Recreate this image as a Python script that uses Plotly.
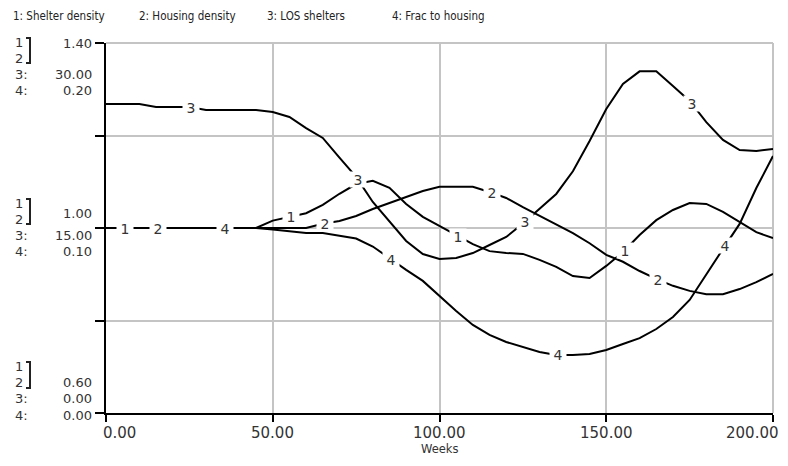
import numpy as np
import plotly.graph_objects as go

# ---- data (weekly simulation output, sampled every 5 weeks) ----
weeks = list(range(0, 201, 5))

shelter_density = [
    1.000, 1.000, 1.000, 1.000, 1.000, 1.000, 1.000, 1.000, 1.000, 1.000,
    1.016, 1.024, 1.032, 1.050, 1.074, 1.095, 1.102, 1.087, 1.052, 1.024,
    1.004, 0.985, 0.965, 0.950, 0.946, 0.944, 0.931, 0.916, 0.896, 0.892,
    0.918, 0.948, 0.985, 1.017, 1.039, 1.054, 1.052, 1.035, 1.013, 0.991,
    0.978,
]
housing_density = [
    1.000, 1.000, 1.000, 1.000, 1.000, 1.000, 1.000, 1.000, 1.000, 1.000,
    1.000, 1.000, 1.000, 1.009, 1.015, 1.026, 1.041, 1.054, 1.067, 1.080,
    1.089, 1.089, 1.089, 1.078, 1.065, 1.045, 1.026, 1.007, 0.989, 0.967,
    0.942, 0.927, 0.907, 0.890, 0.875, 0.864, 0.857, 0.857, 0.868, 0.883,
    0.901,
]
los_shelters = [
    25.05, 25.05, 25.05, 24.81, 24.81, 24.81, 24.57, 24.57, 24.57, 24.57,
    24.41, 24.00, 23.10, 22.30, 20.70, 19.14, 17.11, 15.57, 13.95, 12.89,
    12.49, 12.57, 12.97, 13.62, 14.27, 15.36, 16.60, 17.76, 19.60, 22.05,
    24.65, 26.68, 27.70, 27.70, 26.51, 25.30, 23.59, 22.14, 21.32, 21.24,
    21.41,
]
frac_to_housing = [
    0.1000, 0.1000, 0.1000, 0.1000, 0.1000, 0.1000, 0.1000, 0.1000, 0.1000, 0.1000,
    0.0992, 0.0984, 0.0973, 0.0973, 0.0957, 0.0943, 0.0900, 0.0835, 0.0774, 0.0714,
    0.0632, 0.0551, 0.0476, 0.0422, 0.0384, 0.0357, 0.0330, 0.0314, 0.0314, 0.0319,
    0.0341, 0.0373, 0.0405, 0.0454, 0.0519, 0.0611, 0.0751, 0.0887, 0.1022, 0.1216,
    0.1389,
]

series_names = ["Shelter density", "Housing density", "LOS shelters", "Frac to housing"]

# axis scales: series 1 & 2 share a scale, 3 and 4 have their own
scale_12 = [0.60, 1.40]
scale_3 = [0.0, 30.0]
scale_4 = [0.0, 0.20]
tick_labels_12 = ["0.60", "1.00", "1.40"]
tick_labels_3 = ["0.00", "15.00", "30.00"]
tick_labels_4 = ["0.00", "0.10", "0.20"]
x_ticks = [0, 50, 100, 150, 200]
x_tick_labels = ["0.00", "50.00", "100.00", "150.00", "200.00"]

# ---- page geometry (pixels) ----
W, H = 788, 466
L, R, T, B = 106, 773, 43, 413
PW, PH = R - L, B - T


def px(x):
    return (x - L) / PW


def py(y):
    return (B - y) / PH


GRID = "#c4c4c4"
TXT = "#333333"
VAL_FONT = dict(family="DejaVu Sans, Verdana, sans-serif", size=13, color=TXT)
LEG_FONT = dict(family="DejaVu Sans Condensed, Liberation Sans, Arial, sans-serif",
                size=11.5, color="#222222")

fig = go.Figure()

series = [
    (shelter_density, "y"),
    (housing_density, "y"),
    (los_shelters, "y2"),
    (frac_to_housing, "y3"),
]
for (vals, ax), name in zip(series, series_names):
    fig.add_trace(go.Scatter(
        x=weeks, y=vals, yaxis=ax, mode="lines", name=name,
        line=dict(color="black", width=2), hoverinfo="skip", showlegend=False,
    ))

annotations = []
shapes = []

# numbered labels sitting on each curve (white box breaks the line)
for k, (vals, ax) in enumerate(series):
    for j in range(4):
        w = 5.6 + 10 * k + 50 * j
        v = float(np.interp(w, weeks, vals))
        annotations.append(dict(
            x=w, y=v, xref="x", yref=ax, text=str(k + 1), showarrow=False,
            font=dict(family="DejaVu Sans, sans-serif", size=14, color=TXT),
            bgcolor="white", width=16, height=15, borderpad=0,
            xanchor="center", yanchor="middle",
        ))

# legend row across the top
for name, k, lx in zip(series_names, range(4), [11, 137, 265, 390]):
    annotations.append(dict(
        x=px(lx), y=py(16), xref="paper", yref="paper", text=f"{k + 1}: {name}",
        showarrow=False, xanchor="left", yanchor="middle", font=LEG_FONT,
    ))

# stacked y-axis value labels: (pixel y of 1/2 digits, bracket span, value rows)
groups = [
    dict(one=42, two=58, br=(38, 63), v12=43, v3=74, v4=90, i=2),
    dict(one=203, two=219, br=(199, 224), v12=213, v3=235, v4=251, i=1),
    dict(one=366, two=382, br=(362, 388), v12=382, v3=398, v4=415, i=0),
]
small = dict(showarrow=False, yanchor="middle", font=VAL_FONT, height=11, borderpad=0)
for g in groups:
    for txt, yy in (("1", g["one"]), ("2", g["two"]), ("3:", g["v3"]), ("4:", g["v4"])):
        annotations.append(dict(x=px(14), y=py(yy), xref="paper", yref="paper", text=txt,
                                xanchor="left", **small))
    for txt, yy in ((tick_labels_12[g["i"]], g["v12"]), (tick_labels_3[g["i"]], g["v3"]),
                    (tick_labels_4[g["i"]], g["v4"])):
        annotations.append(dict(x=px(93), y=py(yy), xref="paper", yref="paper", text=txt,
                                xanchor="right", **small))
    y0, y1 = g["br"]
    shapes.append(dict(
        type="path", xref="paper", yref="paper",
        path=f"M {px(26)},{py(y0)} L {px(30)},{py(y0)} L {px(30)},{py(y1)} L {px(26)},{py(y1)}",
        line=dict(color="#222222", width=2),
    ))

# x tick labels (end labels pulled inside the frame)
for i, (xv, lab) in enumerate(zip(x_ticks, x_tick_labels)):
    anchor, shift = "center", 0
    if i == 0:
        anchor, shift = "left", -5
    elif i == len(x_ticks) - 1:
        anchor, shift = "right", 8
    annotations.append(dict(
        x=xv, y=py(433), xref="x", yref="paper", text=lab, showarrow=False,
        xanchor=anchor, yanchor="middle", xshift=shift,
        font=dict(family="DejaVu Sans, Verdana, sans-serif", size=15, color=TXT),
    ))

annotations.append(dict(
    x=0.5, y=py(449), xref="paper", yref="paper", text="Weeks", showarrow=False,
    xanchor="center", yanchor="middle",
    font=dict(family="DejaVu Sans, Verdana, sans-serif", size=11.5, color=TXT),
))

# grey frame on top and right
shapes.append(dict(type="line", xref="paper", yref="paper", x0=0, x1=1, y0=1, y1=1,
                   line=dict(color=GRID, width=2), layer="below"))
shapes.append(dict(type="line", xref="paper", yref="paper", x0=1, x1=1, y0=0, y1=1,
                   line=dict(color=GRID, width=2), layer="below"))

fig.update_layout(
    width=W, height=H,
    margin=dict(l=L, r=W - R, t=T, b=H - B, pad=0),
    paper_bgcolor="white", plot_bgcolor="white",
    showlegend=False,
    xaxis=dict(
        range=[0, 200], tickvals=x_ticks, showticklabels=False,
        showgrid=True, gridcolor=GRID, gridwidth=2, zeroline=False,
        showline=True, linecolor="black", linewidth=2,
        ticks="outside", ticklen=7, tickwidth=2, tickcolor="black",
        fixedrange=True,
    ),
    yaxis=dict(
        range=scale_12, tickvals=[0.6, 0.8, 1.0, 1.2, 1.4], showticklabels=False,
        showgrid=True, gridcolor=GRID, gridwidth=2, zeroline=False,
        showline=True, linecolor="black", linewidth=2,
        ticks="outside", ticklen=9, tickwidth=2, tickcolor="black",
        fixedrange=True,
    ),
    yaxis2=dict(range=scale_3, overlaying="y", showgrid=False, showticklabels=False,
                zeroline=False, showline=False, ticks="", fixedrange=True),
    yaxis3=dict(range=scale_4, overlaying="y", showgrid=False, showticklabels=False,
                zeroline=False, showline=False, ticks="", fixedrange=True),
    annotations=annotations,
    shapes=shapes,
)

fig.write_html("out.html")
